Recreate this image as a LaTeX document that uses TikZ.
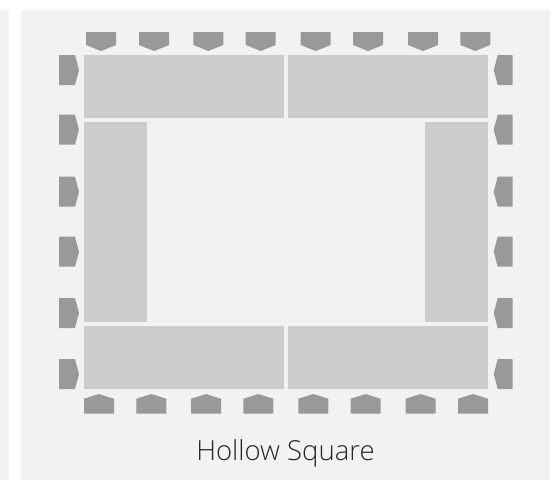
\documentclass[tikz,border=0pt]{standalone}
\usepackage{fontspec}
\setmainfont{Open Sans}
\newfontfamily\lightfont{Open Sans Light}
\definecolor{panel}{HTML}{F2F2F2}
\definecolor{tablec}{HTML}{CCCCCC}
\definecolor{chairc}{HTML}{999999}
\definecolor{textc}{HTML}{262626}
\begin{document}
\begin{tikzpicture}[x=1pt,y=-1pt,
  tbl/.style={fill=tablec,draw=none,inner sep=0pt,outer sep=0pt,anchor=north west},
  chair/.style={fill=chairc,draw=none},
  lbl/.style={text=textc,font=\lightfont\fontsize{27.5}{31}\selectfont,inner sep=0pt,anchor=base}]
\useasboundingbox (0,0) rectangle (551,480);
\fill[white] (0,0) rectangle (551,480);
\fill[panel] (0,10) rectangle (9,480);
\fill[panel] (21,10) rectangle (550,480);
% tables
\node[tbl,minimum width=200pt,minimum height=62.7pt] (ttl) at (84,55) {};
\node[tbl,minimum width=200pt,minimum height=62.7pt] (ttr) at (288,55) {};
\node[tbl,minimum width=63pt,minimum height=199.7pt] (tl) at (84,122) {};
\node[tbl,minimum width=63pt,minimum height=199.7pt] (tr) at (425,122) {};
\node[tbl,minimum width=200pt,minimum height=62.7pt] (tbl1) at (84,326) {};
\node[tbl,minimum width=200pt,minimum height=62.7pt] (tbr) at (288,326) {};
% top chairs
\foreach \x in {86,139,193.3,245.7,300.7,353,408,460.3}
  \fill[chair] (\x,32) -- ++(30,0) -- ++(0,13) -- ++(-15,6) -- ++(-15,-6) -- cycle;
% bottom chairs
\foreach \x in {84,136.3,191,243.3,298.3,350.7,405.7,458}
  \fill[chair] (\x,413.7) -- ++(30,0) -- ++(0,-15) -- ++(-15,-4.7) -- ++(-15,4.7) -- cycle;
% left and right chairs
\foreach \y in {55,114.7,176.7,236.7,298,359}{
  \fill[chair] (59,\y) -- (75,\y) -- (79,\y+15) -- (75,\y+30) -- (59,\y+30) -- cycle;
  \fill[chair] (512.7,\y) -- (497.7,\y) -- (493.7,\y+15) -- (497.7,\y+30) -- (512.7,\y+30) -- cycle;
}
\node[lbl] (title) at (285.5,460) {Hollow Square};
\end{tikzpicture}
\end{document}
